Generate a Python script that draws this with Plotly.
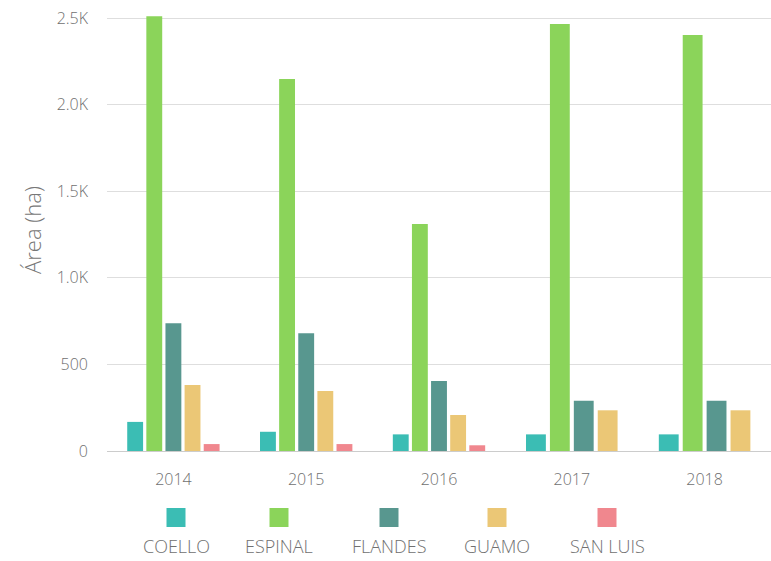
import plotly.graph_objects as go

# Planted area (ha) per municipality and year
years = ["2014", "2015", "2016", "2017", "2018"]
series_names = ["COELLO", "ESPINAL", "FLANDES", "GUAMO", "SAN LUIS"]
coello = [168, 111, 96, 96, 96]
espinal = [2510, 2148, 1311, 2465, 2402]
flandes = [737, 680, 404, 290, 290]
guamo = [381, 346, 208, 235, 235]
san_luis = [40, 40, 33, None, None]

colors = ["#3bbdb4", "#8bd45a", "#58978f", "#ebc776", "#f0878e"]
y_tickvals = [0, 500, 1000, 1500, 2000, 2500]
y_ticktext = ["0", "500", "1.0K", "1.5K", "2.0K", "2.5K"]

all_series = [coello, espinal, flandes, guamo, san_luis]

FONT = "Open Sans"
TEXT = "#707070"
GROUP_W = 0.72  # share of each category occupied by its bars
FILL = 0.83     # share of each slot filled by a bar

fig = go.Figure()

# Each year only reserves slots for the series that have a value in it
offsets = {i: [] for i in range(len(all_series))}
widths = {i: [] for i in range(len(all_series))}
for j in range(len(years)):
    present = [i for i, s in enumerate(all_series) if s[j] is not None]
    slot = GROUP_W / len(present)
    for i in range(len(all_series)):
        if i in present:
            k = present.index(i)
            bw = slot * FILL
            offsets[i].append(-GROUP_W / 2 + slot * k + (slot - bw) / 2)
            widths[i].append(bw)
        else:
            offsets[i].append(0)
            widths[i].append(0.01)

for i, (name, vals) in enumerate(zip(series_names, all_series)):
    fig.add_trace(go.Bar(
        x=list(range(len(years))),
        y=vals,
        name=name,
        marker=dict(color=colors[i], line=dict(width=0)),
        offset=offsets[i],
        width=widths[i],
        showlegend=False,
    ))

# Legend: swatch above each label
top_px, bottom_px = 9, 451
plot_h = bottom_px - top_px
left_px, right_px = 107, 771
plot_w = right_px - left_px


def px_x(p):
    return (p - left_px) / plot_w


def px_y(p):
    return (bottom_px - p) / plot_h


legend_centers = [176, 279, 389, 497, 607]
shapes = []
annotations = []
for name, c, cx in zip(series_names, colors, legend_centers):
    shapes.append(dict(
        type="rect", xref="paper", yref="paper",
        x0=px_x(cx - 9.5), x1=px_x(cx + 9.5),
        y0=px_y(527), y1=px_y(508),
        fillcolor=c, line=dict(width=0),
    ))
    annotations.append(dict(
        text=name, xref="paper", yref="paper",
        x=px_x(cx), y=px_y(546), xanchor="center", yanchor="middle",
        showarrow=False,
        font=dict(family=FONT, size=18, color=TEXT, weight=300),
    ))

tick_font = dict(family=FONT, size=16, color=TEXT, weight=300)

fig.update_layout(
    width=771, height=561,
    margin=dict(l=left_px, r=771 - right_px, t=top_px, b=561 - bottom_px),
    paper_bgcolor="white", plot_bgcolor="white",
    barmode="overlay",
    font=dict(family=FONT, size=15, color=TEXT),
    shapes=shapes,
    annotations=annotations,
    xaxis=dict(
        tickvals=list(range(len(years))), ticktext=years,
        range=[-0.5, len(years) - 0.5],
        showgrid=False, zeroline=False,
        showline=True, linecolor="#cccccc", linewidth=1,
        ticks="", ticklabelstandoff=14,
        tickfont=tick_font,
        fixedrange=True,
    ),
    yaxis=dict(
        range=[0, plot_h / 0.1732],
        tickvals=y_tickvals, ticktext=y_ticktext,
        showgrid=True, gridcolor="#dedede", gridwidth=1,
        zeroline=False, showline=False,
        ticks="", ticklabelstandoff=18,
        tickfont=tick_font,
        title=dict(text="Área (ha)", standoff=8,
                   font=dict(family=FONT, size=22, color="#777777", weight=300)),
        automargin=False,
    ),
)

fig.write_html("out.html")
